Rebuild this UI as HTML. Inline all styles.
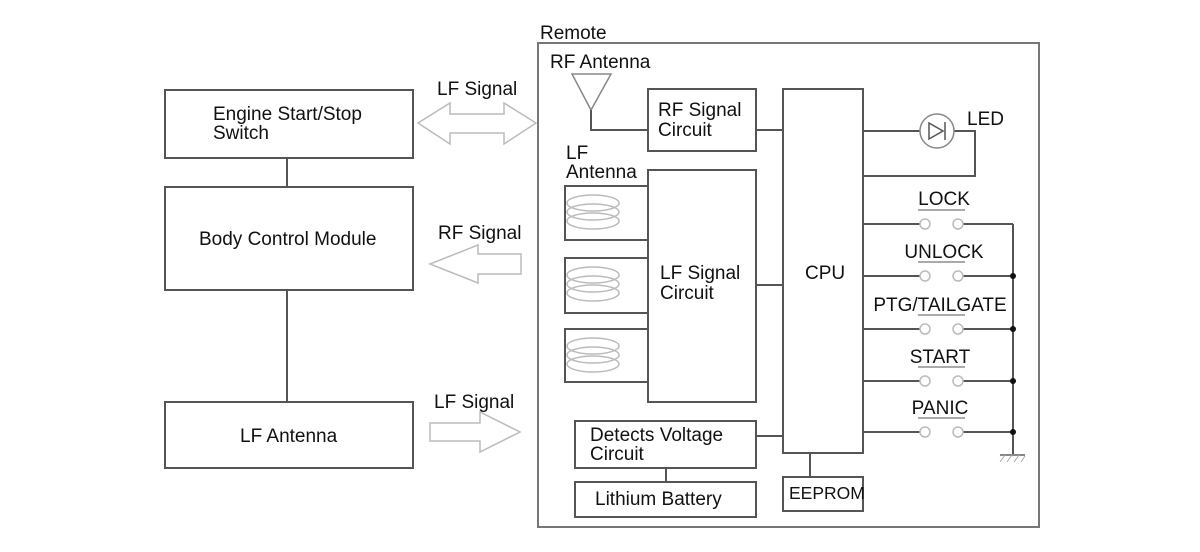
<!DOCTYPE html>
<html><head><style>body{margin:0;background:#fff}svg{display:block}text{font-family:"Liberation Sans",sans-serif;font-size:19px;fill:#111}</style></head>
<body>
<svg width="1200" height="552" viewBox="0 0 1200 552">
<g fill="none" stroke="#555" stroke-width="2">
<rect x="165" y="90" width="248" height="68"/>
<rect x="165" y="187" width="248" height="103"/>
<rect x="165" y="402" width="248" height="66"/>
<line x1="287" y1="158" x2="287" y2="187"/>
<line x1="287" y1="290" x2="287" y2="402"/>
<rect x="538" y="43" width="501" height="484" stroke="#777"/>
<path d="M572 74 L611 74 L591 110 Z" stroke="#888" stroke-width="1.5"/>
<path d="M591 110 V130 H648"/>
<rect x="648" y="89" width="108" height="62"/>
<line x1="756" y1="130" x2="783" y2="130"/>
<rect x="783" y="89" width="80" height="364"/>
<rect x="648" y="170" width="108" height="232"/>
<line x1="756" y1="285" x2="783" y2="285"/>
<path d="M648 186 H565 V240 H648"/>
<path d="M648 258 H565 V313 H648"/>
<path d="M648 329 H565 V382 H648"/>
<rect x="575" y="421" width="181" height="47"/>
<line x1="756" y1="436" x2="783" y2="436"/>
<line x1="666" y1="468" x2="666" y2="482"/>
<rect x="575" y="482" width="181" height="35"/>
<rect x="783" y="477" width="80" height="34"/>
<line x1="810" y1="453" x2="810" y2="477"/>
<path d="M863 131 H975 V176 H863"/>
<line x1="1013" y1="224" x2="1013" y2="455"/>
</g>
<g fill="none" stroke="#bbb" stroke-width="1.5">
<g id="coil"><ellipse cx="593" cy="203" rx="26" ry="8"/><ellipse cx="593" cy="212" rx="26" ry="8"/><ellipse cx="593" cy="221" rx="26" ry="8"/></g>
<use href="#coil" y="72"/><use href="#coil" y="143"/>
<path d="M418 123 L450 103 V114 H504 V103 L536 123 L504 144 V133 H450 V144 Z"/>
<path d="M430 264 L478 245 V254 H521 V274 H478 V283 Z"/>
<path d="M430 423 H480 V412 L520 432 L480 452 V441 H430 Z"/>
</g>
<circle cx="937" cy="131" r="17" fill="#fff" stroke="#888" stroke-width="1.5"/>
<path d="M929 123 L943 131 L929 139 Z M945 122 V140" fill="none" stroke="#555" stroke-width="1.5"/>
<g stroke="#555" stroke-width="2">
<line x1="863" y1="224" x2="920" y2="224"/><line x1="963" y1="224" x2="1013" y2="224"/>
<line x1="863" y1="276" x2="920" y2="276"/><line x1="963" y1="276" x2="1013" y2="276"/>
<line x1="863" y1="329" x2="920" y2="329"/><line x1="963" y1="329" x2="1013" y2="329"/>
<line x1="863" y1="381" x2="920" y2="381"/><line x1="963" y1="381" x2="1013" y2="381"/>
<line x1="863" y1="432" x2="920" y2="432"/><line x1="963" y1="432" x2="1013" y2="432"/>
<line x1="1000" y1="455" x2="1025" y2="455" stroke="#888"/>
</g>
<g fill="#fff" stroke="#bbb" stroke-width="1.5">
<circle cx="925" cy="224" r="5"/><circle cx="958" cy="224" r="5"/>
<circle cx="925" cy="276" r="5"/><circle cx="958" cy="276" r="5"/>
<circle cx="925" cy="329" r="5"/><circle cx="958" cy="329" r="5"/>
<circle cx="925" cy="381" r="5"/><circle cx="958" cy="381" r="5"/>
<circle cx="925" cy="432" r="5"/><circle cx="958" cy="432" r="5"/>
</g>
<g stroke="#aaa" stroke-width="2">
<line x1="918" y1="210" x2="965" y2="210"/><line x1="918" y1="262" x2="965" y2="262"/>
<line x1="918" y1="315" x2="965" y2="315"/><line x1="918" y1="367" x2="965" y2="367"/>
<line x1="918" y1="418" x2="965" y2="418"/>
<path d="M1000 462 L1005 455 M1007 462 L1012 455 M1014 462 L1019 455 M1021 462 L1025 456" stroke-width="1"/>
</g>
<g fill="#111"><circle cx="1013" cy="276" r="3"/><circle cx="1013" cy="329" r="3"/><circle cx="1013" cy="381" r="3"/><circle cx="1013" cy="432" r="3"/></g>
<text x="213" y="120">Engine Start/Stop</text><text x="213" y="139">Switch</text>
<text x="199" y="245">Body Control Module</text>
<text x="240" y="442">LF Antenna</text>
<text x="437" y="95">LF Signal</text>
<text x="438" y="239">RF Signal</text>
<text x="434" y="408">LF Signal</text>
<text x="540" y="39">Remote</text>
<text x="550" y="68">RF Antenna</text>
<text x="658" y="116">RF Signal</text><text x="658" y="136">Circuit</text>
<text x="566" y="159">LF</text><text x="566" y="178">Antenna</text>
<text x="660" y="279">LF Signal</text><text x="660" y="299">Circuit</text>
<text x="805" y="279">CPU</text>
<text x="590" y="441">Detects Voltage</text><text x="590" y="460">Circuit</text>
<text x="595" y="505">Lithium Battery</text>
<text x="789" y="499" style="font-size:17.5px">EEPROM</text>
<text x="967" y="125">LED</text>
<g text-anchor="middle"><text x="944" y="205">LOCK</text><text x="944" y="258">UNLOCK</text><text x="940" y="311">PTG/TAILGATE</text><text x="940" y="363">START</text><text x="940" y="414">PANIC</text></g>
</svg>
</body></html>
